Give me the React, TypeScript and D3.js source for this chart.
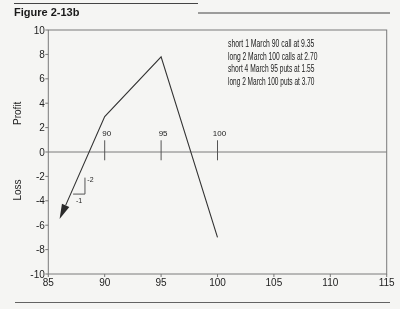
import React from "react";
import * as d3 from "d3";

const xTicks = [85, 90, 95, 100, 105, 110, 115];
const yTicks = [-10, -8, -6, -4, -2, 0, 2, 4, 6, 8, 10];
const payoffX = [86, 90, 95, 100];
const payoffY = [-5.5, 2.9, 7.8, -7];
const strikes = [90, 95, 100];
const legendLines = [
  "short 1 March 90 call at 9.35",
  "long 2 March 100 calls at 2.70",
  "short 4 March 95 puts at 1.55",
  "long 2 March 100 puts at 3.70",
];
const slopeX = [87.2, 88.25, 88.25];
const slopeY = [-3.45, -3.45, -2.1];
const slopeLabels = ["-2", "-1"];

const W = 400;
const H = 309;
const FONT = "Liberation Sans, Arial, Helvetica, sans-serif";

export default function App() {
  const x = d3.scaleLinear().domain([85, 115]).range([48.3, 386.7]);
  const y = d3.scaleLinear().domain([-10, 10]).range([274, 30]);
  const pts: [number, number][] = payoffX.map((v, i) => [x(v), y(payoffY[i])]);
  const line = d3.line();

  // arrowhead at first point, pointing away from second point
  const [tx, ty] = pts[0];
  const [bx0, by0] = pts[1];
  const dx = tx - bx0;
  const dy = ty - by0;
  const len = Math.hypot(dx, dy);
  const ux = dx / len;
  const uy = dy / len;
  const aL = 15;
  const aW = 4;
  const baseX = tx - ux * aL;
  const baseY = ty - uy * aL;
  const head = `M${tx},${ty}L${baseX - uy * aW},${baseY + ux * aW}L${baseX + uy * aW},${baseY - ux * aW}Z`;
  const linePts: [number, number][] = [[baseX, baseY], ...pts.slice(1)];

  const slopePts: [number, number][] = slopeX.map((v, i) => [x(v), y(slopeY[i])]);

  const legendX = 228;
  const legendY0 = 46.8;
  const legendDy = 12.8;
  const charW = 2.98; // condensed face: average advance per character

  return (
    <svg
      width={W}
      height={H}
      style={{ position: "absolute", left: 0, top: 0, background: "#f5f5f3" }}
      fontFamily={FONT}
    >
      <defs>
        <filter id="gray" x="0" y="0" width="1" height="1">
          <feColorMatrix type="identity" />
        </filter>
      </defs>
      <rect x={0} y={0} width={W} height={H} fill="#f5f5f3" />
      <g filter="url(#gray)">
        {/* page rules */}
        <line x1={14} x2={198} y1={3.5} y2={3.5} stroke="#444" strokeWidth={1.2} />
        <line x1={198} x2={390} y1={13} y2={13} stroke="#444" strokeWidth={1.2} />
        <line x1={15} x2={390} y1={303} y2={303} stroke="#333" strokeWidth={1.5} />
        <text x={14} y={15.5} fontSize={11} fontWeight="bold" fill="#1a1a1a">
          Figure 2-13b
        </text>

        {/* frame */}
        <rect
          x={x(85)}
          y={y(10)}
          width={x(115) - x(85)}
          height={y(-10) - y(10)}
          fill="none"
          stroke="#7a7a7a"
          strokeWidth={1}
        />
        {/* zero line */}
        <line x1={x(85)} x2={x(115)} y1={y(0)} y2={y(0)} stroke="#7a7a7a" strokeWidth={1} />

        {/* y ticks */}
        {yTicks.map((t) => (
          <g key={"y" + t}>
            <line x1={x(85) - 3} x2={x(85)} y1={y(t)} y2={y(t)} stroke="#777" />
            <text x={x(85) - 3.5} y={y(t) + 3.6} fontSize={10} textAnchor="end" fill="#222">
              {t}
            </text>
          </g>
        ))}
        {/* x ticks */}
        {xTicks.map((t) => (
          <g key={"x" + t}>
            <line x1={x(t)} x2={x(t)} y1={y(-10)} y2={y(-10) + 3} stroke="#777" />
            <text x={x(t)} y={y(-10) + 12} fontSize={10} textAnchor="middle" fill="#222">
              {t}
            </text>
          </g>
        ))}

        <text transform={`translate(20.5,${113.3}) rotate(-90)`} fontSize={10} textAnchor="middle" fill="#222">
          Profit
        </text>
        <text transform={`translate(20.5,${190}) rotate(-90)`} fontSize={10} textAnchor="middle" fill="#222">
          Loss
        </text>

        {/* strike markers */}
        {strikes.map((s) => (
          <g key={"s" + s}>
            <line x1={x(s)} x2={x(s)} y1={y(0.96)} y2={y(-0.68)} stroke="#555" strokeWidth={1} />
            <text x={x(s) + 2} y={y(1.35)} fontSize={8} textAnchor="middle" fill="#222">
              {s}
            </text>
          </g>
        ))}

        {/* payoff */}
        <path d={line(linePts) || ""} fill="none" stroke="#333" strokeWidth={1.1} />
        <path d={head} fill="#2a2a2a" />

        {/* slope triangle */}
        <path d={line(slopePts) || ""} fill="none" stroke="#555" strokeWidth={1} />
        <text x={slopePts[2][0] + 5.5} y={(slopePts[1][1] + slopePts[2][1]) / 2 - 4} fontSize={7} textAnchor="middle" fill="#222">
          {slopeLabels[0]}
        </text>
        <text x={(slopePts[0][0] + slopePts[1][0]) / 2} y={slopePts[0][1] + 9} fontSize={7} textAnchor="middle" fill="#222">
          {slopeLabels[1]}
        </text>

        {/* legend */}
        {legendLines.map((l, i) => (
          <text
            key={l}
            x={legendX}
            y={legendY0 + i * legendDy}
            fontSize={10.5}
            fill="#1a1a1a"
            textLength={l.length * charW}
            lengthAdjust="spacingAndGlyphs"
          >
            {l}
          </text>
        ))}
      </g>
    </svg>
  );
}
